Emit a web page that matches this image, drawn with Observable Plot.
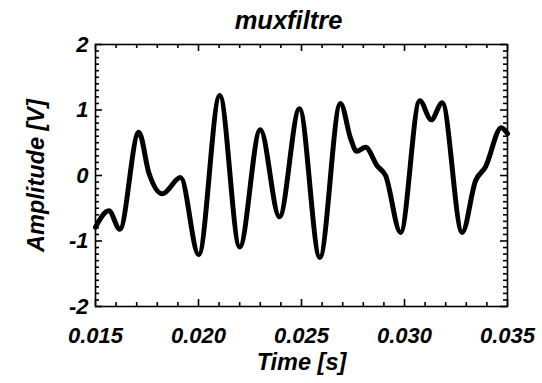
<!DOCTYPE html>
<html>
<head>
<meta charset="utf-8">
<script src="https://cdn.jsdelivr.net/npm/d3@7"></script>
<script src="https://cdn.jsdelivr.net/npm/@observablehq/plot@0.6"></script>
<style>
  html, body { margin: 0; padding: 0; background: #fff; }
</style>
</head>
<body>
<div id="chart"></div>
<script>
const title = "muxfiltre";
const xLabel = "Time [s]";
const yLabel = "Amplitude [V]";

// Time [s] and amplitude [V] (extrema and shoulders)
const times = [
  0.01500, 0.01565, 0.01618, 0.01710, 0.01760, 0.01824, 0.01913, 0.02001,
  0.02103, 0.02200, 0.02300, 0.02393, 0.02490, 0.02589, 0.02689, 0.02740,
  0.02767, 0.02811, 0.02867, 0.02908, 0.02981, 0.03074, 0.03130, 0.03183,
  0.03280, 0.03345, 0.03393, 0.03470, 0.03500
];
const amps = [
  -0.79, -0.54, -0.82, 0.66, 0.03, -0.28, -0.03, -1.21,
  1.22, -1.09, 0.70, -0.63, 1.02, -1.25, 1.10, 0.55,
  0.37, 0.43, 0.15, 0.00, -0.87, 1.14, 0.85, 1.11,
  -0.87, -0.08, 0.13, 0.73, 0.64
];

const xMajor = [0.015, 0.020, 0.025, 0.030, 0.035];
const xTickLabels = ["0.015", "0.020", "0.025", "0.030", "0.035"];
const xMinor = d3.range(15, 36).map(v => v / 1000).filter(v => !xMajor.some(m => Math.abs(m - v) < 1e-9));
const yMajor = [-2, -1, 0, 1, 2];
const yTickLabels = ["-2", "-1", "0", "1", "2"];
const yMinor = d3.range(-20, 21).map(v => v / 10).filter(v => Math.abs(v - Math.round(v)) > 1e-9);

const data = times.map((t, i) => ({t, v: amps[i]}));
const font = "'Liberation Sans', Arial, Helvetica, sans-serif";

const W = 542, H = 383, mL = 95, mR = 35, mT = 44, mB = 77;
const pw = W - mL - mR, ph = H - mT - mB;
const majLen = 7, minLen = 4;
const tickStyle = {stroke: "#000", strokeWidth: 1.6};

const chart = Plot.plot({
  width: W,
  height: H,
  marginLeft: mL,
  marginRight: mR,
  marginTop: mT,
  marginBottom: mB,
  style: {fontFamily: font, fontWeight: "bold", fontStyle: "italic", fontSize: "22px", background: "#fff", color: "#000"},
  x: {domain: [0.015, 0.035], axis: null},
  y: {domain: [-2, 2], axis: null},
  marks: [
    Plot.line(data, {x: "t", y: "v", stroke: "#000", strokeWidth: 5, curve: "monotone-x"}),
    // inward ticks on all four sides
    Plot.tickX(xMajor, {x: d => d, insetTop: ph - majLen, ...tickStyle}),
    Plot.tickX(xMinor, {x: d => d, insetTop: ph - minLen, ...tickStyle}),
    Plot.tickX(xMajor, {x: d => d, insetBottom: ph - majLen, ...tickStyle}),
    Plot.tickX(xMinor, {x: d => d, insetBottom: ph - minLen, ...tickStyle}),
    Plot.tickY(yMajor, {y: d => d, insetRight: pw - majLen, ...tickStyle}),
    Plot.tickY(yMinor, {y: d => d, insetRight: pw - minLen, ...tickStyle}),
    Plot.tickY(yMajor, {y: d => d, insetLeft: pw - majLen, ...tickStyle}),
    Plot.tickY(yMinor, {y: d => d, insetLeft: pw - minLen, ...tickStyle}),
    // tick labels
    Plot.axisX(xMajor, {anchor: "bottom", tickSize: 0, tickPadding: 21, label: null,
      tickFormat: d => xTickLabels[xMajor.indexOf(d)], fontSize: 22}),
    Plot.axisY(yMajor, {anchor: "left", tickSize: 0, tickPadding: 7, label: null,
      tickFormat: d => yTickLabels[yMajor.indexOf(d)], fontSize: 22}),
    Plot.frame({stroke: "#000", strokeWidth: 1.6}),
    // title and axis labels
    Plot.text([title], {frameAnchor: "top", lineAnchor: "middle", textAnchor: "middle", dy: -24, dx: -13, fontSize: 25.5, text: d => d}),
    Plot.text([xLabel], {frameAnchor: "bottom", lineAnchor: "middle", textAnchor: "middle", dy: 56, fontSize: 23.5, text: d => d}),
    Plot.text([yLabel], {frameAnchor: "left", lineAnchor: "middle", textAnchor: "middle", dx: -59, rotate: -90, fontSize: 23.5, text: d => d})
  ]
});
document.getElementById("chart").appendChild(chart);
</script>
</body>
</html>
